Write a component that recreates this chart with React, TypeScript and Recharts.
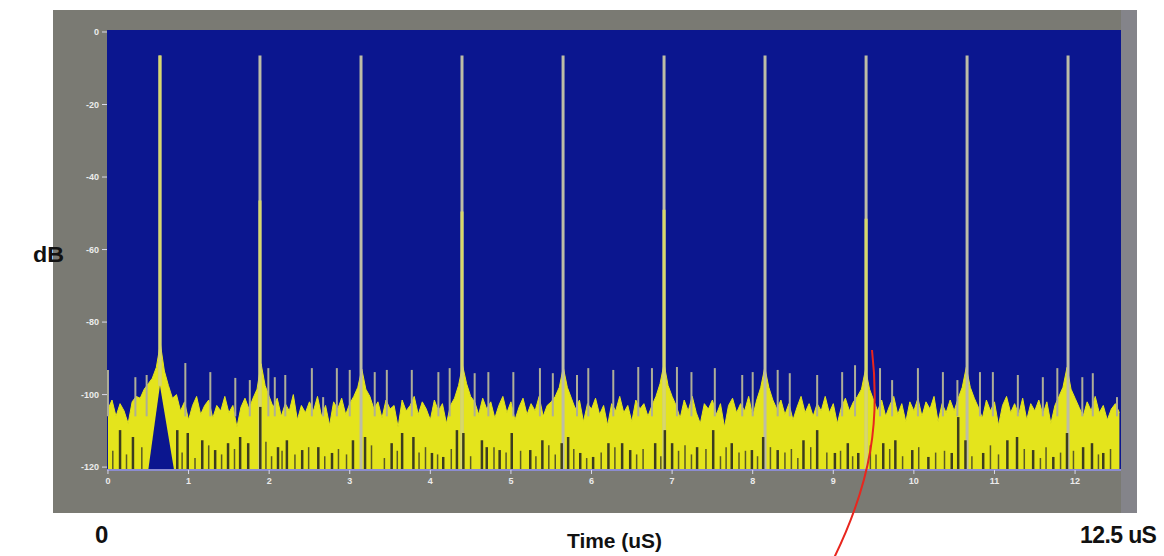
import React from 'react';
import { ComposedChart, Area, XAxis, YAxis, CartesianGrid, ReferenceLine } from 'recharts';

// ---- axis ticks ----
const xTicks = [0, 1, 2, 3, 4, 5, 6, 7, 8, 9, 10, 11, 12];
const yTicks = [0, -20, -40, -60, -80, -100, -120];

// ---- noise floor (top envelope, dB), sampled every 0.05 uS ----
const NOISE_STEP = 0.05;
const noiseTop = [
  -104, -101.5, -106, -102.5, -104.5, -108, -102, -100.5, -101, -98.5, -97, -95.5, -92.5, -86, -93.5, -97.5, -101, -100, -104.5, -102, -107, -103, -100.5, -105.5, -103,
  -101.5, -106.5, -103, -104.5, -100.5, -105, -103, -109, -103.5, -101, -104, -101, -98.5, -91.5, -97.5, -100.5, -103.5, -101, -106, -102.5, -104.5, -100, -107, -103, -105,
  -102, -104.5, -100.5, -106, -103, -108.5, -102, -104, -101, -105.5, -102.5, -100.5, -98, -93, -98.5, -100.5, -104, -102, -106.5, -101.5, -104, -103, -109, -101.5, -104.5,
  -103, -100.5, -105.5, -102, -104, -107, -101.5, -104.5, -102.5, -108, -103, -101, -97.5, -92, -97, -100.5, -102, -105.5, -101, -104, -102, -106.5, -103, -100.5, -105,
  -102, -107, -103.5, -101, -105.5, -102.5, -104.5, -100.5, -106, -103, -102, -100.5, -98, -92.5, -98, -101, -104, -101.5, -107.5, -102.5, -104, -101, -105.5, -103, -108.5,
  -102.5, -104.5, -100.5, -105, -103, -107.5, -101.5, -104, -102.5, -106, -103, -100.5, -97, -91.5, -97.5, -100.5, -103, -106.5, -101.5, -104.5, -100.5, -105, -108, -102.5, -104,
  -101.5, -105.5, -102.5, -109, -103, -101, -105, -102.5, -104.5, -100.5, -106, -101.5, -98, -92.5, -98, -101.5, -104, -101.5, -105.5, -102.5, -107, -103.5, -100.5, -105, -102.5,
  -106, -102.5, -104.5, -100.5, -105, -102.5, -108, -103.5, -101, -104.5, -102, -100.5, -98.5, -93, -98.5, -101.5, -104.5, -101.5, -106, -103, -100.5, -105.5, -102.5, -107.5, -102,
  -104.5, -101, -106, -102, -104, -100.5, -107.5, -102.5, -105, -101.5, -104.5, -101, -98, -92.5, -98, -101, -103.5, -106.5, -101.5, -104.5, -102, -108.5, -103, -100.5, -105,
  -102.5, -105.5, -101, -107, -102.5, -104.5, -101.5, -105.5, -102, -108, -103, -100.5, -98, -92.5, -98.5, -101, -103.5, -106, -102, -104.5, -100.5, -105, -103, -107, -104,
  -102.5, -105,
];

// ---- hollow below the first pulse ----
const gapTimes = [0.5, 0.645, 0.82];
const gapLevels = [-120.8, -97.5, -120.8];

// ---- main pulses ----
const spikeTimes = [0.645, 1.886, 3.14, 4.393, 5.647, 6.9, 8.153, 9.407, 10.66, 11.913];
const spikePeaks = [-6.5, -6.5, -6.5, -6.5, -6.5, -6.5, -6.5, -6.5, -6.5, -6.5];
const spikeBases = [-97.5, -120.8, -120.8, -120.8, -120.8, -120.8, -120.8, -120.8, -120.8, -120.8];
const spikeYellowFrom: (number | null)[] = [-6.5, -46.5, null, -49.5, null, -49, null, -51.5, null, null];

// ---- small spurs ----
const spurTimes = [0.0, 0.34, 0.48, 0.96, 1.27, 1.58, 1.76, 1.99, 2.07, 2.2, 2.53, 2.67, 2.84, 3.0, 3.31, 3.46, 3.77, 4.1, 4.24, 4.55, 4.72, 5.03, 5.36, 5.52, 5.82, 5.96, 6.27, 6.58, 6.75, 7.06, 7.24, 7.53, 7.87, 8.0, 8.31, 8.46, 8.8, 9.11, 9.27, 9.58, 9.73, 10.05, 10.36, 10.54, 10.82, 10.98, 11.29, 11.6, 11.78, 12.09, 12.22, 12.52];
const spurTops = [-93.2, -95.2, -94.6, -91.3, -93.8, -95.4, -96.0, -92.7, -95.2, -94.6, -92.7, -100.7, -92.7, -93.2, -93.8, -93.2, -93.2, -93.8, -92.7, -94.1, -93.8, -93.8, -92.7, -94.1, -94.6, -92.7, -93.2, -92.4, -92.7, -92.4, -93.8, -92.7, -94.6, -93.8, -93.2, -94.1, -94.6, -93.8, -91.9, -92.7, -96.0, -92.7, -93.8, -96.0, -93.8, -93.8, -94.6, -95.2, -92.7, -95.2, -94.1, -100.7];

// ---- dark streaks inside the noise band ----
const darkTimes = [0.15, 0.31, 0.86, 0.99, 1.17, 1.33, 1.49, 1.64, 1.74, 1.89, 2.11, 2.22, 2.41, 2.61, 2.78, 3.04, 3.19, 3.52, 3.65, 3.79, 4.02, 4.16, 4.33, 4.41, 4.64, 4.7, 4.86, 5.01, 5.24, 5.39, 5.63, 5.71, 5.86, 6.02, 6.21, 6.38, 6.48, 6.79, 6.91, 7.0, 7.31, 7.51, 7.74, 7.99, 8.13, 8.31, 8.63, 8.8, 9.02, 9.18, 9.31, 9.62, 9.77, 9.98, 10.18, 10.47, 10.55, 10.64, 10.86, 11.16, 11.28, 11.48, 11.73, 11.9, 12.1, 12.21, 12.35];
const darkTops = [-109.8, -111.7, -109.8, -110.6, -112.6, -115.3, -113.4, -111.7, -113.4, -103.4, -114.5, -112.6, -115.3, -114.5, -116.1, -112.6, -111.7, -113.4, -110.6, -111.7, -116.1, -117.2, -109.8, -110.6, -112.6, -114.5, -115.3, -110.6, -115.3, -112.6, -113.4, -111.7, -116.1, -117.2, -113.4, -113.4, -115.3, -113.4, -109.8, -113.4, -114.5, -109.8, -113.4, -115.3, -111.7, -115.3, -112.6, -109.8, -116.1, -113.4, -116.1, -113.4, -112.6, -115.3, -117.2, -116.1, -106.2, -112.6, -116.1, -112.6, -111.7, -115.3, -117.2, -110.6, -114.5, -113.4, -116.1];

// ---- fainter short streaks near the bottom ----
const lowTimes = [0.06, 0.23, 0.42, 0.92, 1.08, 1.25, 1.41, 1.57, 1.96, 2.03, 2.16, 2.32, 2.49, 2.69, 2.86, 2.96, 3.27, 3.43, 3.59, 3.86, 3.94, 4.09, 4.26, 4.5, 4.79, 4.94, 5.12, 5.31, 5.47, 5.55, 5.78, 5.94, 6.12, 6.29, 6.56, 6.64, 6.86, 7.08, 7.16, 7.24, 7.42, 7.6, 7.67, 7.83, 7.91, 8.06, 8.22, 8.4, 8.48, 8.56, 8.72, 8.92, 9.09, 9.24, 9.46, 9.53, 9.7, 9.86, 10.06, 10.27, 10.38, 10.72, 10.95, 11.05, 11.37, 11.57, 11.64, 11.82, 11.98, 12.29, 12.44];
const lowTops = [-115.5, -116.5, -114.5, -116, -117.5, -114, -116.5, -115, -113, -117, -115.5, -116.5, -114.5, -117, -115, -116.5, -114, -117.5, -115.5, -116, -114.5, -116.5, -115, -117, -114.5, -116, -115.5, -117, -114, -116.5, -115, -117.5, -116, -114.5, -116.5, -115, -117, -115.5, -114, -116.5, -115, -117, -114.5, -116, -115.5, -117, -114.5, -116, -115, -117.5, -114.5, -116, -115.5, -117, -114, -116.5, -115, -117, -114.5, -116, -115.5, -117, -114, -116.5, -115, -117.5, -114.5, -116, -115.5, -116.5, -115];

const Y_MIN = -120.8;
const Y_MAX = 0.55;

const BLUE = '#0b168f';
const YELLOW = '#e4e41c';
const SPIKE_GRAY = '#bdbda6';
const SPIKE_YELLOW = '#d8d86a';
const SPUR = '#aeae98';
const DARK = '#3c3c20';
const DARK_LOW = '#5a5a26';

const rows: any[] = [
  ...noiseTop.map((v, i) => ({ t: Math.round(i * NOISE_STEP * 1000) / 1000, noise: v })),
  ...gapTimes.map((t, i) => ({ t, gap: gapLevels[i] })),
].sort((a, b) => a.t - b.t);

const tickStyle = { fill: '#ececec', fontSize: 9, fontWeight: 700, fontFamily: 'Liberation Sans, Arial, sans-serif' };

export default function App() {
  return (
    <div style={{ position: 'absolute', left: 0, top: 0, width: 1164, height: 556, background: '#ffffff', overflow: 'hidden' }}>
      <div style={{ position: 'absolute', left: 53, top: 10, width: 1084, height: 503, background: '#7a7a73' }} />
      <div style={{ position: 'absolute', left: 1121, top: 10, width: 16, height: 503, background: '#84848a' }} />
      <div style={{ position: 'absolute', left: 0, top: 0 }}>
        <ComposedChart width={1164} height={556} data={rows} margin={{ top: 30, right: 43, bottom: 0, left: 0 }}>
          <CartesianGrid horizontal={false} vertical={false} fill={BLUE} fillOpacity={1} stroke="none" />
          <XAxis
            type="number"
            dataKey="t"
            domain={[-0.012, 12.57]}
            allowDataOverflow
            ticks={xTicks}
            height={86}
            tickSize={4}
            tickMargin={4}
            tick={tickStyle}
            tickLine={{ stroke: '#d8d8e8' }}
            axisLine={{ stroke: '#8c8cd0', strokeWidth: 2 }}
          />
          <YAxis
            type="number"
            domain={[Y_MIN, Y_MAX]}
            allowDataOverflow
            ticks={yTicks}
            width={107}
            tickSize={5}
            tickMargin={3}
            tick={tickStyle}
            tickLine={{ stroke: '#d8d8e8' }}
            axisLine={false}
          />
          <Area
            type="linear"
            dataKey="noise"
            connectNulls
            baseValue="dataMin"
            stroke={YELLOW}
            strokeWidth={1}
            fill={YELLOW}
            fillOpacity={1}
            dot={false}
            activeDot={false}
            isAnimationActive={false}
          />
          <Area
            type="linear"
            dataKey="gap"
            connectNulls
            baseValue="dataMin"
            stroke="none"
            fill={BLUE}
            fillOpacity={1}
            dot={false}
            activeDot={false}
            isAnimationActive={false}
          />
          {spurTimes.map((t, i) => (
            <ReferenceLine
              key={'spur' + i}
              segment={[{ x: t, y: -106 }, { x: t, y: spurTops[i] }]}
              stroke={SPUR}
              strokeWidth={2}
              ifOverflow="hidden"
            />
          ))}
          {spikeTimes.map((t, i) => (
            <ReferenceLine
              key={'spk' + i}
              segment={[{ x: t, y: spikeBases[i] }, { x: t, y: spikePeaks[i] }]}
              stroke={SPIKE_GRAY}
              strokeWidth={3}
              ifOverflow="hidden"
            />
          ))}
          {spikeTimes.map((t, i) =>
            spikeYellowFrom[i] === null ? null : (
              <ReferenceLine
                key={'spky' + i}
                segment={[{ x: t, y: spikeBases[i] }, { x: t, y: spikeYellowFrom[i] as number }]}
                stroke={SPIKE_YELLOW}
                strokeWidth={3}
                ifOverflow="hidden"
              />
            )
          )}
          {lowTimes.map((t, i) => (
            <ReferenceLine
              key={'lw' + i}
              segment={[{ x: t, y: Y_MIN }, { x: t, y: lowTops[i] }]}
              stroke={DARK_LOW}
              strokeWidth={1.5}
              ifOverflow="hidden"
            />
          ))}
          {darkTimes.map((t, i) => (
            <ReferenceLine
              key={'dk' + i}
              segment={[{ x: t, y: Y_MIN }, { x: t, y: darkTops[i] }]}
              stroke={DARK}
              strokeWidth={2.5}
              ifOverflow="hidden"
            />
          ))}
        </ComposedChart>
      </div>
      <svg
        width={1164}
        height={556}
        style={{ position: 'absolute', left: 0, top: 0, pointerEvents: 'none' }}
      >
        <g fontFamily="Liberation Sans, Arial, sans-serif" fontWeight={700} fill="#111">
          <text x={33} y={262} fontSize={22} textLength={31} lengthAdjust="spacingAndGlyphs">dB</text>
          <text x={95} y={543} fontSize={24}>0</text>
          <text x={567} y={548} fontSize={21} textLength={95} lengthAdjust="spacingAndGlyphs">Time (uS)</text>
          <text x={1080} y={543} fontSize={23} letterSpacing={-0.6}>12.5 uS</text>
        </g>
        <path d="M872,350 C880,420 872,480 834,558" stroke="#e8261e" strokeWidth={2} fill="none" />
      </svg>
    </div>
  );
}
